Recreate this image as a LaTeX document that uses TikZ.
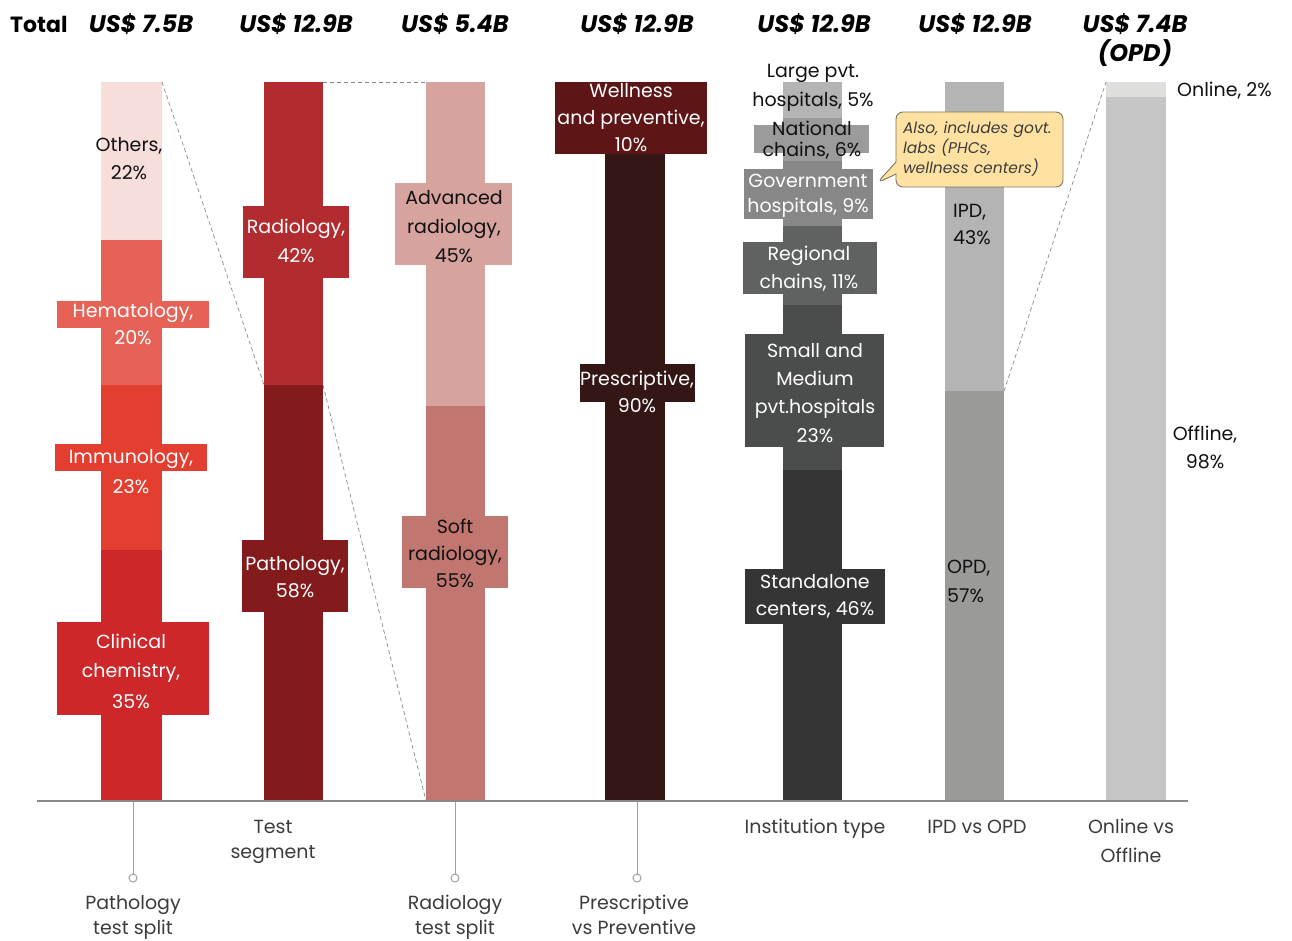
\documentclass[tikz,border=0pt]{standalone}
\usepackage{fontspec}
\setmainfont{Poppins}
\usetikzlibrary{shapes.callouts}

% segment colours
\definecolor{pOthers}{HTML}{F7DEDA}
\definecolor{pHema}{HTML}{E66257}
\definecolor{pImmu}{HTML}{E43E31}
\definecolor{pClin}{HTML}{CD2729}
\definecolor{tRadC}{HTML}{B22C2F}
\definecolor{tPathC}{HTML}{831A1C}
\definecolor{rAdv}{HTML}{D6A39F}
\definecolor{rSoft}{HTML}{C27670}
\definecolor{wWell}{HTML}{5E1515}
\definecolor{wPres}{HTML}{341715}
\definecolor{iLarge}{HTML}{B4B4B4}
\definecolor{iNat}{HTML}{9B9B9B}
\definecolor{iGov}{HTML}{878787}
\definecolor{iReg}{HTML}{5F6261}
\definecolor{iSmall}{HTML}{4B4C4C}
\definecolor{iStand}{HTML}{353535}
\definecolor{oIPD}{HTML}{B4B4B4}
\definecolor{oOPD}{HTML}{9A9B98}
\definecolor{lOn}{HTML}{DEDEDD}
\definecolor{lOff}{HTML}{C6C6C6}
\definecolor{noteFill}{HTML}{FFE2A2}
\definecolor{noteDraw}{HTML}{7F7460}
\definecolor{axisGray}{HTML}{888888}
\definecolor{stemGray}{HTML}{A0A0A0}
\definecolor{capGray}{HTML}{3C3C3C}
\definecolor{inkBlack}{HTML}{111111}

\newcommand\bodyfont{\fontsize{19}{28}\selectfont}
\newcommand\headfont{\fontsize{24}{29}\selectfont\bfseries\itshape}
\newcommand\notefont{\fontsize{15.5}{20}\selectfont\itshape}

% multi-line labels are placed by the baseline of their last line
\tikzset{
  lbl/.style={font=\bodyfont, align=center, anchor=base, inner sep=0pt, text=#1},
  lbl/.default=inkBlack,
  head/.style={font=\headfont, align=center, anchor=base, inner sep=0pt, text=black},
  captext/.style={font=\bodyfont, align=center, anchor=base, inner sep=0pt, text=capGray},
  zoomline/.style={draw=axisGray, line width=0.7pt, dash pattern=on 4pt off 3pt},
  axisline/.style={draw=axisGray, line width=1.4pt},
  stemline/.style={draw=stemGray, line width=1pt},
  stemdot/.style={circle, draw=stemGray, fill=white, line width=1pt, minimum size=8pt, inner sep=0pt},
}

\begin{document}
\begin{tikzpicture}[x=1pt, y=-1pt]
\useasboundingbox (0,0) rectangle (1292,941);

% ---------- header totals ----------
\node[head, anchor=base west, font=\fontsize{22}{29}\selectfont\bfseries] (hTotal) at (10,33) {Total};
\node[head] (hPath) at (141,33) {US\$ 7.5B};
\node[head] (hTest) at (296,33) {US\$ 12.9B};
\node[head] (hRad)  at (455,33) {US\$ 5.4B};
\node[head] (hPres) at (637,33) {US\$ 12.9B};
\node[head] (hInst) at (814,33) {US\$ 12.9B};
\node[head] (hIPD)  at (975,33) {US\$ 12.9B};
\node[head] (hOnl)  at (1135,62) {US\$ 7.4B\\(OPD)};

% ---------- pathology test split ----------
\fill[pOthers] (101,82) rectangle (162,240);
\fill[pHema]   (101,240) rectangle (162,385);
\fill[pImmu]   (101,385) rectangle (162,550);
\fill[pClin]   (101,550) rectangle (162,801);
\fill[pHema]   (57,301) rectangle (209,328);
\fill[pImmu]   (55,444) rectangle (207,471);
\fill[pClin]   (57,622) rectangle (209,715);
\node[lbl] (lOthers) at (129,180) {Others,\\22\%};
\node[lbl=white] (lHema) at (133,344) {Hematology,\\[-1pt]20\%};
\node[lbl=white] (lImmu) at (131,493) {Immunology,\\[2pt]23\%};
\node[lbl=white] (lClin) at (131,708) {Clinical\\[1pt]chemistry,\\[3pt]35\%};

% ---------- test segment ----------
\fill[tRadC]  (264,82) rectangle (323,385);
\fill[tPathC] (264,385) rectangle (323,801);
\fill[tRadC]  (243,206) rectangle (349,278);
\fill[tPathC] (242,540) rectangle (348,612);
\node[lbl=white] (lRad) at (296,262) {Radiology,\\[1pt]42\%};
\node[lbl=white] (lPath) at (295,597) {Pathology,\\[-1pt]58\%};

% ---------- radiology test split ----------
\fill[rAdv]  (426,82) rectangle (485,406);
\fill[rSoft] (426,406) rectangle (485,801);
\fill[rAdv]  (395,183) rectangle (512,265);
\fill[rSoft] (402,516) rectangle (508,588);
\node[lbl] (lAdv) at (454,262) {Advanced\\[1pt]radiology,\\[1pt]45\%};
\node[lbl] (lSoft) at (455,587) {Soft\\[-1pt]radiology,\\[-1pt]55\%};

% ---------- prescriptive vs preventive ----------
\fill[wPres] (605,154) rectangle (665,801);
\fill[wWell] (555,82) rectangle (707,154);
\fill[wPres] (580,364) rectangle (695,402);
\node[lbl=white] (lWell) at (631,152) {Wellness\\[-1pt]and preventive,\\[-1pt]10\%};
\node[lbl=white] (lPres) at (637,412) {Prescriptive,\\[-1pt]90\%};

% ---------- institution type ----------
\fill[iLarge] (783,82) rectangle (842,118);
\fill[iNat]   (783,118) rectangle (842,161);
\fill[iGov]   (783,161) rectangle (842,226);
\fill[iReg]   (783,226) rectangle (842,305);
\fill[iSmall] (783,305) rectangle (842,470);
\fill[iStand] (783,470) rectangle (842,801);
\fill[iNat]   (754,125) rectangle (869,153);
\fill[iGov]   (744,169) rectangle (873,219);
\fill[iReg]   (743,242) rectangle (877,294);
\fill[iSmall] (745,334) rectangle (884,447);
\fill[iStand] (745,569) rectangle (885,624);
\node[lbl] (lLarge) at (813,107) {Large pvt.\\[1pt]hospitals, 5\%};
\node[lbl] (lNat) at (812,157) {National\\[-7pt]chains, 6\%};
\node[lbl=white] (lGov) at (808,213) {Government\\[-3pt]hospitals, 9\%};
\node[lbl=white] (lReg) at (809,288) {Regional\\chains, 11\%};
\node[lbl=white] (lSmall) at (815,442) {Small and\\Medium\\pvt.hospitals\\[1pt]23\%};
\node[lbl=white] (lStand) at (815,615) {Standalone\\[-1pt]centers, 46\%};

% ---------- IPD vs OPD ----------
\fill[oIPD] (945,82) rectangle (1004,391);
\fill[oOPD] (945,391) rectangle (1004,801);
\node[lbl, align=left, anchor=base west] (lIPD) at (953,245) {IPD,\\43\%};
\node[lbl, align=left, anchor=base west] (lOPD) at (947,602) {OPD,\\[1pt]57\%};

% ---------- online vs offline ----------
\fill[lOn]  (1106,82) rectangle (1166,97);
\fill[lOff] (1106,97) rectangle (1166,801);
\node[lbl, anchor=base west] (lOnline) at (1177,97) {Online, 2\%};
\node[lbl] (lOffline) at (1205,468) {Offline,\\98\%};

% ---------- zoom connectors ----------
\coordinate (pTop)   at (162,82);
\coordinate (tPathL) at (264,385);
\coordinate (tPathR) at (323,385);
\coordinate (rBot)   at (426,801);
\coordinate (tTop)   at (323,82);
\coordinate (rTop)   at (426,82);
\coordinate (opdTop) at (1004,391);
\coordinate (onTop)  at (1106,82);
\draw[zoomline] (pTop) -- (tPathL);
\draw[zoomline] (tPathR) -- (rBot);
\draw[zoomline] (tTop) -- (rTop);
\draw[zoomline] (opdTop) -- (onTop);

% ---------- note on government labs ----------
\coordinate (govTip) at (877,183);
\node[rectangle callout, draw=noteDraw, fill=noteFill, line width=0.9pt,
      rounded corners=7pt, callout absolute pointer={(govTip)},
      callout pointer width=12pt, minimum width=167pt, minimum height=75pt,
      text width=161pt, inner xsep=3pt, inner ysep=0pt, align=left,
      font=\notefont, text=capGray] (note) at (979.5,149.5)
      {\hspace*{4pt}Also, includes govt.\\\hspace*{4pt}labs (PHCs,\\\hspace*{4pt}wellness centers)};

% ---------- axis and captions ----------
\coordinate (axL) at (37,801);
\coordinate (axR) at (1188,801);
\draw[axisline] (axL) -- (axR);

\coordinate (sPath) at (133,802);
\coordinate (sRad)  at (455,802);
\coordinate (sPres) at (637,802);
\node[stemdot] (dPath) at (133,878) {};
\node[stemdot] (dRad)  at (455,878) {};
\node[stemdot] (dPres) at (637,878) {};
\draw[stemline] (sPath) -- (dPath);
\draw[stemline] (sRad) -- (dRad);
\draw[stemline] (sPres) -- (dPres);

\node[captext] (cPath) at (133,934) {Pathology\\[-3pt]test split};
\node[captext] (cTest) at (273,858) {Test\\[-3pt]segment};
\node[captext] (cRad)  at (455,934) {Radiology\\[-3pt]test split};
\node[captext] (cPres) at (634,934) {Prescriptive\\[-3pt]vs Preventive};
\node[captext] (cInst) at (815,833) {Institution type};
\node[captext] (cIPD)  at (977,833) {IPD vs OPD};
\node[captext] (cOnl)  at (1131,862) {Online vs\\[1pt]Offline};
\end{tikzpicture}
\end{document}
